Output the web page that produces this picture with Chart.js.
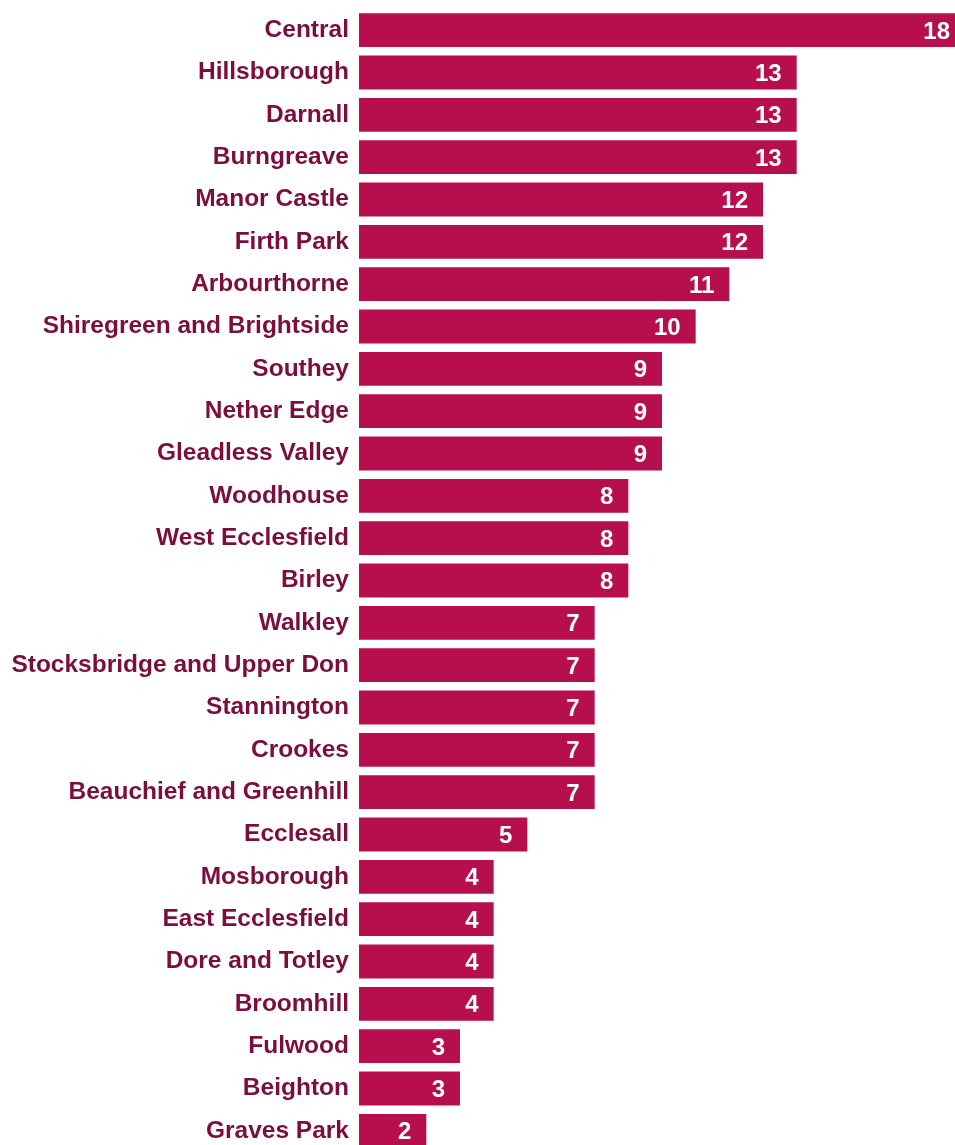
<!DOCTYPE html>
<html>
<head>
<meta charset="utf-8">
<script src="https://cdn.jsdelivr.net/npm/chart.js@4/dist/chart.umd.min.js"></script>
<style>
  html, body { margin: 0; padding: 0; background: #fff; overflow: hidden; }
  #wrap { width: 955px; height: 1145px; overflow: hidden; }
</style>
</head>
<body>
<div id="wrap"><canvas id="wards" width="965" height="1152"></canvas></div>
<script>
const wards = [
  'Central', 'Hillsborough', 'Darnall', 'Burngreave', 'Manor Castle', 'Firth Park',
  'Arbourthorne', 'Shiregreen and Brightside', 'Southey', 'Nether Edge', 'Gleadless Valley',
  'Woodhouse', 'West Ecclesfield', 'Birley', 'Walkley', 'Stocksbridge and Upper Don',
  'Stannington', 'Crookes', 'Beauchief and Greenhill', 'Ecclesall', 'Mosborough',
  'East Ecclesfield', 'Dore and Totley', 'Broomhill', 'Fulwood', 'Beighton', 'Graves Park'
];
const counts = [18, 13, 13, 13, 12, 12, 11, 10, 9, 9, 9, 8, 8, 8, 7, 7, 7, 7, 7, 5, 4, 4, 4, 4, 3, 3, 2];

const barColour = '#b70e4e';
const labelColour = '#7c0e3e';
const font = '"Liberation Sans", Arial, Helvetica, sans-serif';

// white count drawn inside the end of each bar
const valueLabels = {
  id: 'valueLabels',
  afterDatasetsDraw(chart) {
    const ctx = chart.ctx;
    const meta = chart.getDatasetMeta(0);
    ctx.save();
    ctx.fillStyle = '#ffffff';
    ctx.font = 'bold 24px ' + font;
    ctx.textAlign = 'right';
    ctx.textBaseline = 'middle';
    meta.data.forEach(function(bar, i) {
      ctx.fillText(String(counts[i]), bar.x - 15, bar.y + 2);
    });
    ctx.restore();
  }
};

new Chart('wards', {
  type: 'bar',
  data: {
    labels: wards,
    datasets: [{
      data: counts,
      backgroundColor: barColour,
      borderWidth: 0,
      barPercentage: 0.8,
      categoryPercentage: 1.0
    }]
  },
  plugins: [valueLabels],
  options: {
    indexAxis: 'y',
    responsive: false,
    animation: false,
    layout: { padding: { top: 9, right: 0, bottom: 0, left: 0 } },
    plugins: {
      legend: { display: false },
      tooltip: { enabled: false }
    },
    scales: {
      x: {
        display: false,
        min: 0,
        max: 18
      },
      y: {
        afterFit(scale) {
          scale.width = 359;
          // labels may hang past the plot area, bars use the full height
          scale.paddingTop = 0;
          scale.paddingBottom = 0;
        },
        grid: { display: false, drawTicks: false },
        border: { display: false },
        ticks: {
          padding: 10,
          color: labelColour,
          font: { family: font, size: 24.5, weight: 'bold' }
        }
      }
    }
  }
});
</script>
</body>
</html>
